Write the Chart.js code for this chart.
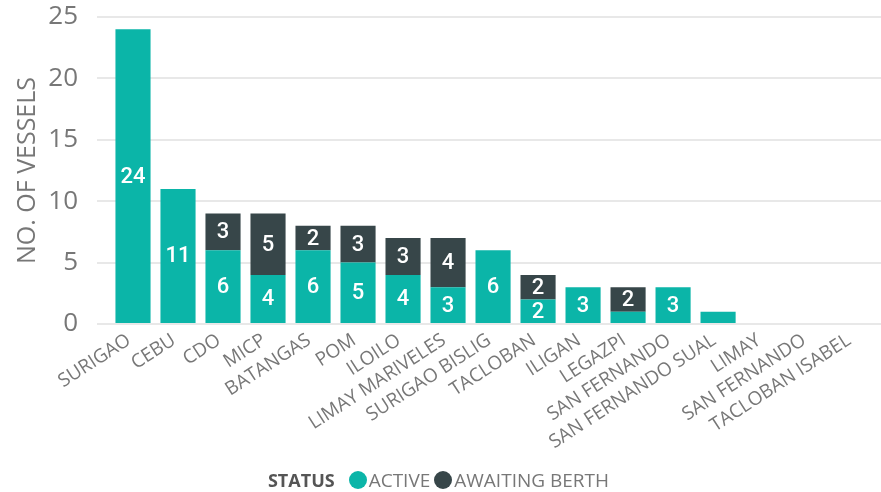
<!DOCTYPE html>
<html><head><meta charset="utf-8">
<script src="https://cdn.jsdelivr.net/npm/chart.js@4/dist/chart.umd.min.js"></script>
<style>
html,body{margin:0;padding:0;background:#fff;}
#wrap{position:relative;width:881px;height:492px;overflow:hidden;}
#legend{position:absolute;left:0;top:466px;width:881px;height:27px;display:flex;justify-content:center;align-items:center;font-family:"Open Sans",sans-serif;font-size:19px;color:#777;white-space:nowrap;}
#legend .ttl{font-weight:700;color:#555;margin-right:14px;font-size:18px;}
#legend .dot{display:inline-block;width:18px;height:18px;border-radius:50%;margin-right:2px;}
#legend .item{display:flex;align-items:center;margin-right:4px;}
</style></head><body>
<div id="wrap"><canvas id="c" width="881" height="492"></canvas><div id="legend"></div></div>
<script>
const categories = ["SURIGAO","CEBU","CDO","MICP","BATANGAS","POM","ILOILO","LIMAY MARIVELES","SURIGAO BISLIG","TACLOBAN","ILIGAN","LEGAZPI","SAN FERNANDO","SAN FERNANDO SUAL","LIMAY","SAN FERNANDO","TACLOBAN ISABEL"];
const activeValues = [24,11,6,4,6,5,4,3,6,2,3,1,3,1,0,0,0];
const awaitingValues = [0,0,3,5,2,3,3,4,0,2,0,2,0,0,0,0,0];
const yTicks = [0,5,10,15,20,25];
const seriesNames = ["ACTIVE","AWAITING BERTH"];
const seriesColors = ["#0BB5A8","#374649"];
const legendTitle = "STATUS";
const axisTitle = "NO. OF VESSELS";

const labelPlugin = {
  id:'segLabels',
  afterDatasetsDraw(chart){
    const ctx = chart.ctx;
    ctx.save();
    ctx.fillStyle = '#fff';
    ctx.font = '500 22px Roboto';
    ctx.textAlign = 'center';
    ctx.textBaseline = 'middle';
    chart.data.datasets.forEach((ds, di) => {
      const meta = chart.getDatasetMeta(di);
      meta.data.forEach((el, i) => {
        const v = ds.data[i].y;
        if (v >= 2) {
          const p = el.getProps(['x','y','base'], true);
          ctx.fillText(String(v), p.x, (p.y + p.base) / 2 + 1);
        }
      });
    });
    ctx.restore();
  }
};

const chart = new Chart(document.getElementById('c').getContext('2d'), {
  type:'bar',
  data:{ datasets:[
    {label:seriesNames[0], data:categories.map((c,i)=>({x:i,y:activeValues[i]})), backgroundColor:seriesColors[0], borderWidth:0},
    {label:seriesNames[1], data:categories.map((c,i)=>({x:i,y:awaitingValues[i]})), backgroundColor:seriesColors[1], borderWidth:0}
  ]},
  options:{
    responsive:false, animation:false,
    layout:{padding:{top:17,left:0,right:0,bottom:38}},
    plugins:{legend:{display:false}, tooltip:{enabled:false}},
    datasets:{bar:{barPercentage:0.78, categoryPercentage:1}},
    scales:{
      x:{type:'linear', stacked:true, offset:false, min:-0.8, max:16.62,
        grid:{display:false, drawTicks:false}, border:{display:false},
        afterBuildTicks: s => { s.ticks = categories.map((c,i)=>({value:i})); },
        ticks:{autoSkip:false, minRotation:33, maxRotation:33, padding:5, labelOffset:-4,
          font:{family:'Open Sans', size:19}, color:'#777',
          callback:(v)=>categories[v]},
        afterFit: s => { s.height = 130; s.paddingLeft = 0; s.paddingRight = 0; }
      },
      y:{stacked:true, min:0, max:25,
        afterBuildTicks: s => { s.ticks = yTicks.map(v=>({value:v})); },
        grid:{color:'#e8e8e8', lineWidth:2, drawTicks:false}, border:{display:false},
        ticks:{padding:19, font:{family:'Open Sans', size:26}, color:'#777'},
        title:{display:true, text:axisTitle, font:{family:'Open Sans', size:25}, color:'#777', padding:{top:13,bottom:0}},
        afterFit: s => { s.width = 97; s.paddingTop = 0; s.paddingBottom = 0; }
      }
    }
  },
  plugins:[labelPlugin]
});

const lg = document.getElementById('legend');
const t = document.createElement('span'); t.className='ttl'; t.textContent = legendTitle; lg.appendChild(t);
chart.data.datasets.forEach(ds => {
  const it = document.createElement('span'); it.className='item';
  const d = document.createElement('span'); d.className='dot'; d.style.background = ds.backgroundColor;
  const tx = document.createElement('span'); tx.textContent = ds.label;
  it.appendChild(d); it.appendChild(tx); lg.appendChild(it);
});
</script>
</body></html>
